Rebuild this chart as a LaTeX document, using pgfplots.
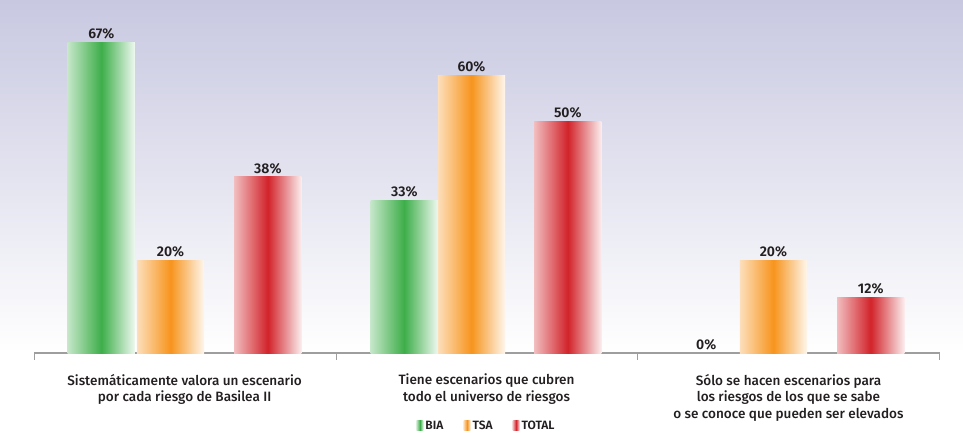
\documentclass[border=0pt]{standalone}
\usepackage{pgfplots}
\pgfplotsset{compat=1.18}
\usepackage{fontspec}
\setmainfont{Fira Sans}
\newfontfamily\medfont{Fira Sans}[UprightFont=* Medium, BoldFont=* SemiBold]
\definecolor{cgreen}{RGB}{61,174,73}
\definecolor{corange}{RGB}{247,148,29}
\definecolor{cred}{RGB}{210,35,42}
\definecolor{clav}{RGB}{200,200,225}
\definecolor{ctext}{RGB}{35,31,32}
\pgfplotsset{
  barshade/.style={draw=none, left color=#1!30!white, right color=#1!8!white, middle color=#1},
}
\begin{document}
\begin{tikzpicture}
\begin{axis}[
  scale only axis, width=963pt, height=436pt,
  xmin=0, xmax=963, ymin=-17.53, ymax=76.84,
  hide axis, clip=false,
  /pgf/number format/assume math mode=true,
  ybar, bar shift=0pt, bar width=67,
  nodes near coords={\pgfmathprintnumber{\pgfplotspointmeta}\%},
  nodes near coords style={font=\medfont\bfseries\fontsize{14}{14}\selectfont, text=ctext, inner sep=3pt},
  legend style={at={(488pt,-1pt)}, anchor=south, legend columns=-1, draw=none, fill=none,
    font=\medfont\bfseries\fontsize{12}{12}\selectfont, text=ctext,
    /tikz/every even column/.append style={column sep=18pt}},
  legend image code/.code={\path[#1] (0pt,-4pt) rectangle (7pt,6pt);},
]
\fill[top color=clav, bottom color=white] (axis cs:3,76.19) rectangle (axis cs:963,0);
\draw[color=black!38, line width=1.3pt] (axis cs:37,0) -- (axis cs:940,0);
\pgfplotsinvokeforeach{37,338,639,940}{
  \draw[color=black!38, line width=1pt] (axis cs:#1,0) -- (axis cs:#1,-1.5);
}
\addlegendimage{barshade=cgreen}\addlegendentry{BIA}
\addlegendimage{barshade=corange}\addlegendentry{TSA}
\addlegendimage{barshade=cred}\addlegendentry{TOTAL}
% BIA
\addplot[barshade=cgreen, forget plot] coordinates {(104,67)};
\addplot[barshade=cgreen, forget plot] coordinates {(406,33)};
\addplot[barshade=cgreen, forget plot] coordinates {(707,0)};
% TSA
\addplot[barshade=corange, forget plot] coordinates {(173,20)};
\addplot[barshade=corange, forget plot] coordinates {(473,60)};
\addplot[barshade=corange, forget plot] coordinates {(774,20)};
% TOTAL
\addplot[barshade=cred, forget plot] coordinates {(270,38)};
\addplot[barshade=cred, forget plot] coordinates {(569,50)};
\addplot[barshade=cred, forget plot] coordinates {(871,12)};
\node[anchor=north, align=center, font=\medfont\fontsize{13.5}{16.5}\selectfont, text=ctext, inner sep=0pt] at (axis cs:187,-4.5) {Sistemáticamente valora un escenario\\por cada riesgo de Basilea II};
\node[anchor=north, align=center, font=\medfont\fontsize{13.5}{16.5}\selectfont, text=ctext, inner sep=0pt] at (axis cs:488,-4.5) {Tiene escenarios que cubren\\todo el universo de riesgos};
\node[anchor=north, align=center, font=\medfont\fontsize{13.5}{16.5}\selectfont, text=ctext, inner sep=0pt] at (axis cs:789,-4.5) {Sólo se hacen escenarios para\\los riesgos de los que se sabe\\o se conoce que pueden ser elevados};
\end{axis}
\end{tikzpicture}
\end{document}
